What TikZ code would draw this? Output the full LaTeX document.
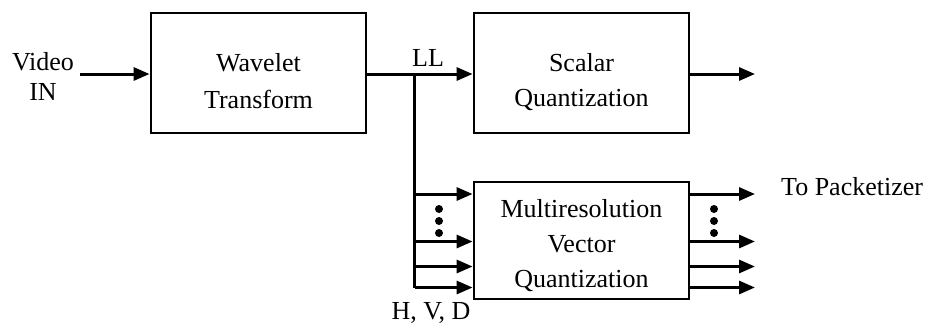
\documentclass[tikz,border=0pt]{standalone}
\usepackage{fontspec}
\setmainfont{Liberation Serif}
\usetikzlibrary{arrows.meta}
\begin{document}
\begin{tikzpicture}[x=1pt,y=-1pt,
  blk/.style={draw,line width=2.8pt,inner sep=0pt},
  txt/.style={inner sep=0pt,align=center,font=\fontsize{26}{35}\selectfont},
  lbl/.style={inner sep=0pt,font=\fontsize{26}{35}\selectfont},
  arr/.style={line width=3pt,-{Triangle[length=16pt,width=13pt]}},
  ln/.style={line width=3pt},
  dot/.style={fill,circle,inner sep=0pt,minimum size=8pt}]
\useasboundingbox (0,0) rectangle (930,325);
% boxes
\node[blk,minimum width=215pt,minimum height=120pt] (wt) at (258.5,73) {};
\node[txt,font=\fontsize{26}{37}\selectfont] (wtt) at (258.5,81) {Wavelet\\Transform};
\node[blk,minimum width=215pt,minimum height=120pt] (sq) at (581.5,73) {};
\node[txt] (sqt) at (581.5,82) {Scalar\\Quantization};
\node[blk,minimum width=215pt,minimum height=117pt] (mvq) at (581.5,240.5) {};
\node[txt] (mvqt) at (581.5,246) {Multiresolution\\Vector\\Quantization};
% input
\node[txt,font=\fontsize{26}{30}\selectfont] (vin) at (43,76) {Video\\IN};
\coordinate (vs) at (80,74);
\draw[arr] (vs) -- (vs -| wt.west);
% LL
\coordinate (br) at (414.5,74);
\draw[arr] (br -| wt.east) -- (br -| sq.west);
\node[lbl] (ll) at (428,58) {LL};
\coordinate (bb) at (414.5,288);
\draw[ln] (br) -- (bb);
% scalar output
\coordinate (so) at (755,74);
\draw[arr] (so -| sq.east) -- (so);
% multiresolution in/out
\foreach \n/\y in {1/194,2/241.5,3/266.5,4/287.5}{
  \coordinate (i\n) at (414.5,\y);
  \draw[arr] (i\n) -- (i\n -| mvq.west);
  \coordinate (o\n) at (755,\y);
  \draw[arr] (o\n -| mvq.east) -- (o\n);
}
\foreach \k/\y in {1/209,2/221,3/233}{
  \node[dot] (dl\k) at (439,\y) {};
  \node[dot] (dr\k) at (714,\y) {};
}
\node[lbl,anchor=base west] (tp) at (781,195) {To Packetizer};
\node[lbl] (hvd) at (431,312.5) {H, V, D};
\end{tikzpicture}
\end{document}
